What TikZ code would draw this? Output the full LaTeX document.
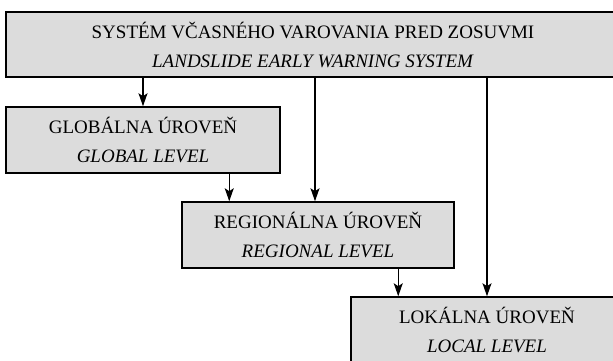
\documentclass[tikz,border=0pt]{standalone}
\usepackage{fontspec}
\setmainfont{Liberation Serif}
\usetikzlibrary{arrows.meta}
\definecolor{boxgray}{RGB}{220,220,220}
\tikzset{
 level/.style={draw,line width=1.5pt,fill=boxgray,inner sep=0pt,align=center,
  minimum height=66,font=\fontsize{19}{29}\selectfont},
 arr/.style={-{Stealth[length=13pt,width=9pt,inset=3pt]},line width=1.2pt}
}
\begin{document}
\begin{tikzpicture}[x=1pt,y=-1pt]
 \useasboundingbox(0,0)rectangle(613,360);
 \node[level,minimum width=614,minimum height=65](sys)at(313,44.5){SYSTÉM VČASNÉHO VAROVANIA PRED ZOSUVMI\\\textit{LANDSLIDE EARLY WARNING SYSTEM}};
 \node[level,minimum width=274](glob)at(143,140){GLOBÁLNA ÚROVEŇ\\\textit{GLOBAL LEVEL}};
 \node[level,minimum width=272](reg)at(318,235){REGIONÁLNA ÚROVEŇ\\\textit{REGIONAL LEVEL}};
 \node[level,minimum width=272](loc)at(487,330){LOKÁLNA ÚROVEŇ\\\textit{LOCAL LEVEL}};
 \coordinate(g2r)at([xshift=48]reg.north west);
 \coordinate(r2l)at([xshift=48]loc.north west);
 \coordinate(s2r)at([xshift=-3]reg.north);
 \draw[arr](sys.south -| glob.north)--(glob.north);
 \draw[arr](sys.south -| s2r)--(s2r);
 \draw[arr](sys.south -| loc.north)--(loc.north);
 \draw[arr](glob.south -| g2r)--(g2r);
 \draw[arr](reg.south -| r2l)--(r2l);
\end{tikzpicture}
\end{document}
